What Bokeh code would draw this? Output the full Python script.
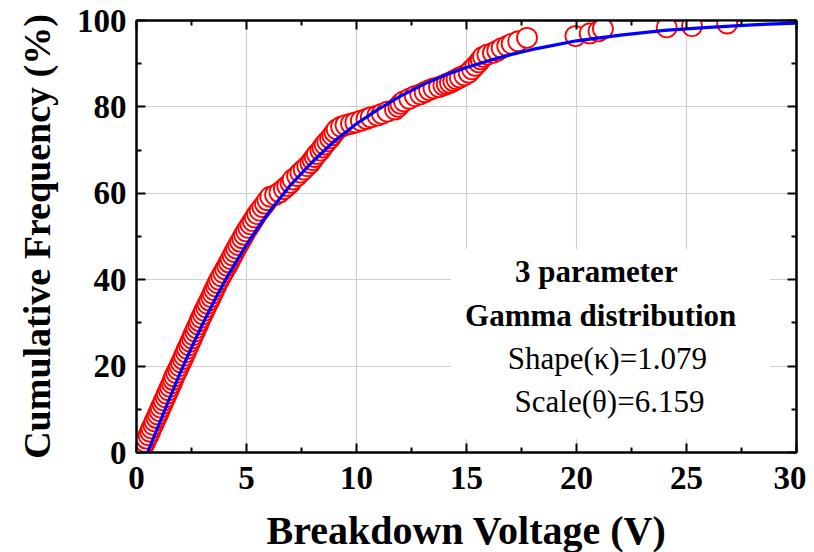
from bokeh.plotting import figure
from bokeh.models import LinearAxis, Range1d, BoxAnnotation, Label, FixedTicker
from bokeh.embed import file_html
from bokeh.resources import INLINE

# ---- data ----
volt_low = [0.25,0.32,0.40,0.46,0.55,0.62,0.68,0.76,0.82,0.90,0.97,1.04,1.10,1.18,1.24,1.32,1.38,1.46,1.52,1.60,
            1.66,1.72,1.80,1.88,1.95,2.02,2.10,2.16,2.24,2.30,2.38,2.44,2.52,2.58,2.66,2.72,2.80,2.86]
freq_low = [0.8,1.6,2.4,3.2,4.0,4.8,5.6,6.4,7.2,8.0,8.8,9.6,10.4,11.2,12.0,12.8,13.6,14.4,15.2,16.0,
            16.8,17.6,18.4,19.2,20.0,20.8,21.6,22.4,23.2,24.0,24.8,25.6,26.4,27.2,28.0,28.8,29.6,30.4]
volt_mid = [2.93,3.01,3.08,3.16,3.23,3.31,3.39,3.46,3.53,3.61,3.68,3.76,3.85,3.94,4.03,4.12,4.20,4.28,4.37,4.45,
            4.53,4.62,4.71,4.80,4.89,4.98,5.08,5.18,5.28,5.38,5.48,5.60,5.72,5.84,5.95,6.08]
freq_mid = [31.2,32.0,32.8,33.6,34.4,35.2,36.0,36.8,37.6,38.4,39.2,40.0,40.8,41.6,42.4,43.2,44.0,44.8,45.6,46.4,
            47.2,48.0,48.8,49.6,50.4,51.2,52.0,52.8,53.6,54.4,55.2,56.0,56.8,57.6,58.4,59.2]
volt_up = [6.30,6.50,6.70,6.85,7.00,7.10,7.30,7.45,7.60,7.76,7.90,8.00,8.10,8.20,8.36,8.45,8.55,8.67,8.80,8.90,
           9.00,9.10,9.30]
freq_up = [59.6,60.2,61.0,61.7,62.4,63.2,64.0,64.8,65.5,66.3,67.0,67.7,68.4,69.1,69.9,70.6,71.3,72.0,72.7,73.4,
           74.1,74.8,75.4]
volt_high = [9.50,9.75,9.95,10.20,10.45,10.65,10.95,11.15,11.40,11.75,11.90,12.00,12.15,12.40,12.65,12.90,13.10,
             13.30,13.50,13.75,13.95,14.10,14.25,14.40,14.55,14.70,14.90,15.10,15.25,15.40,15.55,15.65,15.75,15.95,
             16.20,16.40,16.60,16.85,17.05,17.35,17.75]
freq_high = [75.8,76.1,76.4,76.8,77.2,77.6,78.0,78.4,78.9,79.4,80.0,80.7,81.3,81.9,82.5,82.9,83.4,83.9,84.3,84.6,
             85.0,85.3,85.6,86.0,86.4,86.8,87.3,87.9,88.7,89.5,90.3,91.0,91.6,92.1,92.5,93.0,93.6,94.1,94.6,95.2,96.0]
volt_tail = [19.95,20.60,21.00,21.20,24.10,25.25,26.85]
freq_tail = [96.4,97.0,97.5,98.1,98.4,98.7,99.3]

fit_volt = [0.5,1,1.5,2,2.5,3,3.5,4,4.5,5,5.5,6,7,8,9,10,11,12,13,14,15,16,17,18,19,20,22,24,26,28,30]
fit_freq = [0,6.2,12.5,18.6,24.3,29.7,34.8,39.6,43.9,48.1,51.9,55.5,61.9,67.3,72.1,76.1,79.5,82.5,85.1,87.3,
            89.1,90.7,92.1,93.3,94.3,95.3,96.6,97.7,98.4,99.0,99.4]

x_ticks = [0, 5, 10, 15, 20, 25, 30]
x_minor = [2.5, 7.5, 12.5, 17.5, 22.5, 27.5]
y_ticks = [0, 20, 40, 60, 80, 100]
y_minor = [10, 30, 50, 70, 90]

annot_lines = ["3 parameter", "Gamma distribution", "Shape(\u03ba)=1.079", "Scale(\u03b8)=6.159"]

voltage = volt_low + volt_mid + volt_up + volt_high + volt_tail
cumfreq = freq_low + freq_mid + freq_up + freq_high + freq_tail

FONT = "Liberation Serif"

p = figure(frame_width=660, frame_height=432, x_range=Range1d(0, 30), y_range=Range1d(0, 100),
           output_backend="svg", toolbar_location=None,
           min_border_left=136, min_border_right=10, min_border_top=20, min_border_bottom=90,
           x_axis_label="Breakdown Voltage (V)", y_axis_label="Cumulative Frequency (%)")
p.outline_line_color = "black"
p.outline_line_width = 2
p.background_fill_color = "white"
p.border_fill_color = "white"

xt = FixedTicker(ticks=x_ticks, minor_ticks=x_minor)
yt = FixedTicker(ticks=y_ticks, minor_ticks=y_minor)

def style(ax):
    ax.axis_line_width = 2
    ax.axis_line_color = "black"
    ax.major_tick_in = 9
    ax.major_tick_out = 0
    ax.minor_tick_in = 5
    ax.minor_tick_out = 0
    ax.major_tick_line_width = 2
    ax.minor_tick_line_width = 2
    ax.major_tick_line_color = "black"
    ax.minor_tick_line_color = "black"

for ax in list(p.xaxis) + list(p.yaxis):
    style(ax)
    ax.major_label_text_font = FONT
    ax.major_label_text_font_style = "bold"
    ax.major_label_text_font_size = "33px"
    ax.major_label_text_color = "black"
    ax.axis_label_text_font = FONT
    ax.axis_label_text_font_style = "bold"
    ax.axis_label_text_color = "black"

p.xaxis.axis_label_text_font_size = "40px"
p.yaxis.axis_label_text_font_size = "38px"
p.xaxis.ticker = xt
p.yaxis.ticker = yt
p.xaxis.major_label_standoff = 14
p.yaxis.major_label_standoff = 10
p.xaxis.axis_label_standoff = 16
p.yaxis.axis_label_standoff = 16

top = LinearAxis(ticker=xt, major_label_overrides={t: "" for t in x_ticks})
style(top)
p.add_layout(top, "above")
right = LinearAxis(ticker=yt, major_label_overrides={t: "" for t in y_ticks})
style(right)
p.add_layout(right, "right")

p.xgrid.ticker = xt
p.ygrid.ticker = yt
p.xgrid.grid_line_color = "#cfcfcf"
p.ygrid.grid_line_color = "#cfcfcf"
p.xgrid.grid_line_width = 1.2
p.ygrid.grid_line_width = 1.2

box = BoxAnnotation(left=14.3, right=28.8, bottom=3.2, top=47.1, fill_color="white", fill_alpha=1.0,
                    line_color=None, level="underlay")
p.add_layout(box)

p.scatter(voltage, cumfreq, marker="circle", size=20, line_color="#ff0000", line_width=1.8,
          fill_color="white", fill_alpha=1.0)
p.line(fit_volt, fit_freq, line_color="#0000ff", line_width=3.2)

pos = [(20.9, 41.8, "bold"), (21.1, 31.6, "bold"), (21.4, 21.8, "normal"), (21.5, 11.8, "normal")]
for (lx, ly, st), txt in zip(pos, annot_lines):
    p.add_layout(Label(x=lx, y=ly, text=txt, text_align="center", text_baseline="middle",
                       text_font=FONT, text_font_style=st, text_font_size="31px", text_color="black"))

open("out.html", "w").write(file_html(p, INLINE))
